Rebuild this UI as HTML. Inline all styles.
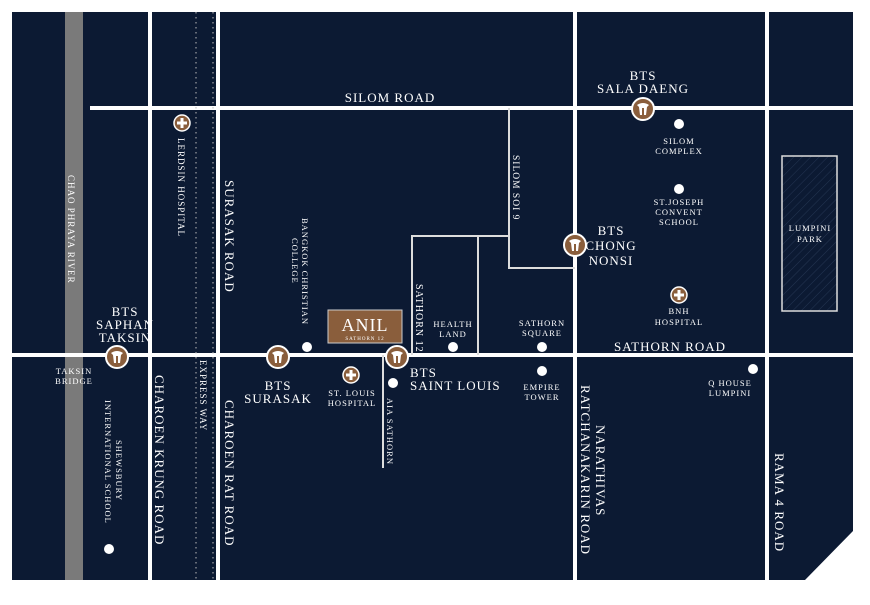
<!DOCTYPE html>
<html><head><meta charset="utf-8"><style>
html,body{margin:0;padding:0;background:#fff;width:870px;height:605px;overflow:hidden}
svg text{font-family:"Liberation Serif",serif;fill:#fff;letter-spacing:1px}
</style></head><body>
<svg width="870" height="605" viewBox="0 0 870 605" xmlns="http://www.w3.org/2000/svg">
<defs>
<pattern id="h" width="6" height="6" patternUnits="userSpaceOnUse" patternTransform="rotate(45)">
<line x1="0" y1="0" x2="0" y2="6" stroke="#243552" stroke-width="1"/></pattern>
<g id="bts"><circle r="11" fill="#8a5e3c" stroke="#fff" stroke-width="2"/>
<path d="M-6,-4 Q0,-8 6,-4 L4,-2 L3,6 L1,6 L1,-1 L-1,-1 L-1,6 L-3,6 L-4,-2 Z" fill="#fff"/></g>
<g id="hos"><circle r="8" fill="#8a5e3c" stroke="#fff" stroke-width="1.5"/>
<path d="M-1.5,-5h3v3.5h3.5v3h-3.5v3.5h-3v-3.5h-3.5v-3h3.5z" fill="#fff"/></g>
</defs>
<polygon points="12,12 853,12 853,531 805,580 12,580" fill="#0c1a33"/>
<rect x="65" y="12" width="18" height="568" fill="#7a7a7a"/>
<g stroke="#fff" stroke-width="4" fill="none">
<line x1="90" y1="108" x2="853" y2="108"/>
<line x1="12" y1="355" x2="853" y2="355"/>
<line x1="150" y1="12" x2="150" y2="580"/>
<line x1="218" y1="12" x2="218" y2="580"/>
<line x1="575" y1="12" x2="575" y2="580"/>
<line x1="767" y1="12" x2="767" y2="580"/>
</g>
<g stroke="#ddd" stroke-width="2" fill="none">
<polyline points="509,108 509,268 575,268"/>
<polyline points="412,355 412,236 509,236"/>
<line x1="478" y1="236" x2="478" y2="355"/>
<line x1="383" y1="355" x2="383" y2="468"/>
</g>
<g stroke="#bbb" stroke-width="1" stroke-dasharray="1.5,3.5">
<line x1="196" y1="12" x2="196" y2="580"/>
<line x1="213" y1="12" x2="213" y2="580"/>
</g>
<rect x="782" y="156" width="55" height="155" fill="url(#h)" stroke="#ddd" stroke-width="1.5"/>
<rect x="328" y="310" width="74" height="33" fill="#8a5e3c" stroke="#ccc" stroke-width="1"/>
<text x="365" y="331" font-size="18" text-anchor="middle" letter-spacing="3">ANIL</text>
<text x="365" y="340" font-size="5" text-anchor="middle">SATHORN 12</text>
<g font-size="13" text-anchor="middle">
<text x="390" y="102" letter-spacing="1.5">SILOM ROAD</text>
<text x="670" y="351" letter-spacing="1.5">SATHORN ROAD</text>
<text x="643" y="80">BTS</text><text x="643" y="93">SALA DAENG</text>
<text x="611" y="235">BTS</text><text x="611" y="250">CHONG</text><text x="611" y="265">NONSI</text>
<text x="125" y="316">BTS</text><text x="125" y="329">SAPHAN</text><text x="125" y="342">TAKSIN</text>
<text x="278" y="390">BTS</text><text x="278" y="403">SURASAK</text>
</g>
<g font-size="13"><text x="410" y="377">BTS</text><text x="410" y="390">SAINT LOUIS</text></g>
<g font-size="8.5" text-anchor="middle">
<text x="679" y="144">SILOM</text><text x="679" y="154">COMPLEX</text>
<text x="679" y="205">ST.JOSEPH</text><text x="679" y="215">CONVENT</text><text x="679" y="225">SCHOOL</text>
<text x="679" y="314">BNH</text><text x="679" y="325">HOSPITAL</text>
<text x="810" y="231">LUMPINI</text><text x="810" y="242">PARK</text>
<text x="453" y="327">HEALTH</text><text x="453" y="337">LAND</text>
<text x="542" y="326">SATHORN</text><text x="542" y="336">SQUARE</text>
<text x="542" y="390">EMPIRE</text><text x="542" y="400">TOWER</text>
<text x="352" y="396">ST. LOUIS</text><text x="352" y="406">HOSPITAL</text>
<text x="74" y="374">TAKSIN</text><text x="74" y="384">BRIDGE</text>
<text x="730" y="386">Q HOUSE</text><text x="730" y="396">LUMPINI</text>
</g>
<g fill="#fff">
<circle cx="679" cy="124" r="5"/><circle cx="679" cy="189" r="5"/>
<circle cx="453" cy="347" r="5"/><circle cx="542" cy="347" r="5"/>
<circle cx="542" cy="371" r="5"/><circle cx="307" cy="347" r="5"/>
<circle cx="393" cy="383" r="5"/><circle cx="753" cy="369" r="5"/>
<circle cx="109" cy="549" r="5"/>
</g>
<use href="#hos" x="182" y="123"/><use href="#hos" x="679" y="295"/><use href="#hos" x="351" y="375"/>
<use href="#bts" x="643" y="109"/><use href="#bts" x="575" y="245"/>
<use href="#bts" x="117" y="357"/><use href="#bts" x="278" y="357"/><use href="#bts" x="397" y="357"/>
<g font-size="13">
<text transform="translate(68,175) rotate(90)" font-size="9">CHAO PHRAYA RIVER</text>
<text transform="translate(178,138) rotate(90)" font-size="9">LERDSIN HOSPITAL</text>
<text transform="translate(225,180) rotate(90)">SURASAK ROAD</text>
<text transform="translate(302,218) rotate(90)" font-size="8.5">BANGKOK CHRISTIAN</text>
<text transform="translate(292,238) rotate(90)" font-size="8.5">COLLEGE</text>
<text transform="translate(416,284) rotate(90)" font-size="10">SATHORN 12</text>
<text transform="translate(513,155) rotate(90)" font-size="9.5">SILOM SOI 9</text>
<text transform="translate(200,360) rotate(90)" font-size="9">EXPRESS WAY</text>
<text transform="translate(387,398) rotate(90)" font-size="8.5">AIA SATHORN</text>
<text transform="translate(155,375) rotate(90)">CHAROEN KRUNG ROAD</text>
<text transform="translate(225,400) rotate(90)">CHAROEN RAT ROAD</text>
<text transform="translate(116,440) rotate(90)" font-size="8.5">SHEWSBURY</text>
<text transform="translate(105,400) rotate(90)" font-size="8.5">INTERNATIONAL SCHOOL</text>
<text transform="translate(596,425) rotate(90)">NARATHIVAS</text>
<text transform="translate(581,385) rotate(90)">RATCHANAKARIN ROAD</text>
<text transform="translate(775,453) rotate(90)">RAMA 4 ROAD</text>
</g>
</svg>
</body></html>
